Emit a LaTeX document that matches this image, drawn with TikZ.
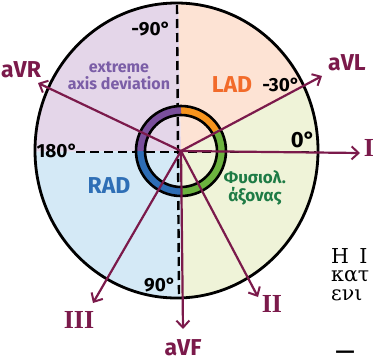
\documentclass[tikz,border=0pt]{standalone}
\usepackage{fontspec}
\setmainfont{Fira Sans}
\newfontfamily\serifgr{DejaVu Serif}
\newfontfamily\numfont{Liberation Serif}
\usetikzlibrary{arrows.meta,calc}
\definecolor{lav}{HTML}{E4D6E9}
\definecolor{peach}{HTML}{FDE3D4}
\definecolor{lgreen}{HTML}{EFF3D8}
\definecolor{lblue}{HTML}{D4E9F6}
\definecolor{ringpurple}{HTML}{7A4F9C}
\definecolor{ringorange}{HTML}{F7941D}
\definecolor{ringgreen}{HTML}{6CB33F}
\definecolor{ringblue}{HTML}{2D6DB5}
\definecolor{maroon}{HTML}{7B1A4B}
\definecolor{txtpurple}{HTML}{7B5EA7}
\definecolor{txtorange}{HTML}{F26B2A}
\definecolor{txtblue}{HTML}{2F6FB6}
\definecolor{txtgreen}{HTML}{1E7B45}
\begin{document}
\begin{tikzpicture}[x=1pt,y=-1pt,
  lead/.style={draw=maroon, line width=2.2pt, line cap=round,
    -{Straight Barb[length=7pt,width=13pt,line width=2pt]}},
  leadlabel/.style={text=maroon, font=\bfseries\fontsize{23}{23}\selectfont, inner sep=0pt},
  romanlabel/.style={text=maroon, font=\numfont\bfseries\fontsize{26}{26}\selectfont, inner sep=0pt},
  deglabel/.style={text=black, font=\bfseries\fontsize{19}{19}\selectfont, inner sep=0pt},
  axisdash/.style={draw=black, line width=2.4pt, dash pattern=on 9pt off 5pt},
  ringarc/.style={line width=8pt},
  regionlabel/.style={inner sep=0pt, align=center},
  sidetext/.style={anchor=north west, inner sep=0pt, align=left, font=\serifgr\fontsize{20.5}{18.5}\selectfont}]
\useasboundingbox (0,0) rectangle (380,362);
\coordinate (C) at (181,151);
% quadrants
\begin{scope}
  \clip (176.5,150.5) ellipse [x radius=141.5, y radius=147.5];
  \fill[lav] (C) -- (178,-20) -- (-20,-20) -- (-20,152) -- cycle;
  \fill[peach] (C) -- (178,-20) -- (500,-20) -- (500,-18) -- cycle;
  \fill[lgreen] (C) -- (500,-18) -- (500,500) -- (180,500) -- cycle;
  \fill[lblue] (C) -- (180,500) -- (-20,500) -- (-20,152) -- cycle;
\end{scope}
% dashed axes
\coordinate (vt) at (177,5);
\coordinate (vb) at (179,297);
\coordinate (hl) at (76,152);
\coordinate (hr) at (316,152);
\draw[axisdash] (vt) -- (vb);
\draw[axisdash] (hl) -- (hr);
% outer circle
\draw[line width=2.8pt] (176.5,150.5) ellipse [x radius=141.5, y radius=147.5];
% ring
\draw[ringarc, ringorange] ($(C)+(-90:40.5)$) arc[start angle=-90, end angle=-30, radius=40.5];
\draw[ringarc, ringgreen] ($(C)+(-30:40.5)$) arc[start angle=-30, end angle=90, radius=40.5];
\draw[ringarc, ringblue] ($(C)+(90:40.5)$) arc[start angle=90, end angle=180, radius=40.5];
\draw[ringarc, ringpurple] ($(C)+(180:40.5)$) arc[start angle=180, end angle=270, radius=40.5];
\draw[line width=2.6pt] (C) circle[radius=45];
\draw[line width=2.6pt] (C) circle[radius=36];
% leads
\coordinate (aVRt) at (38,83);
\coordinate (aVLt) at (322,76);
\coordinate (It) at (360,153);
\coordinate (IIt) at (258,297);
\coordinate (IIIt) at (93,303);
\coordinate (aVFt) at (183,329);
\draw[lead] (C) -- (aVRt);
\draw[lead] (C) -- (aVLt);
\draw[lead] (C) -- (It);
\draw[lead] (C) -- (IIt);
\draw[lead] (C) -- (IIIt);
\draw[lead] (C) -- (aVFt);
% lead labels
\node[leadlabel] (laVR) at (21,70) {aVR};
\node[leadlabel] (laVL) at (347,63) {aVL};
\node[romanlabel] (lI) at (369,148) {I};
\node[romanlabel] (lII) at (272,304) {II};
\node[romanlabel] (lIII) at (79,320) {III};
\node[leadlabel] (laVF) at (183,348) {aVF};
% degree labels
\node[deglabel] (d90m) at (151,29) {-90°};
\node[deglabel] (d180) at (57,151) {180°};
\node[deglabel] (d30m) at (281,85) {-30°};
\node[deglabel, font=\bfseries\fontsize{22}{22}\selectfont] (d0) at (303,140) {0°};
\node[deglabel] (d90) at (160,285) {90°};
% region labels
\node[regionlabel, text=txtpurple, font=\bfseries\fontsize{16}{17}\selectfont] (ext) at (119,76) {extreme\\axis deviation};
\node[regionlabel, text=txtorange, font=\bfseries\fontsize{23}{23}\selectfont] (lad) at (232,85) {LAD};
\node[regionlabel, text=txtblue, font=\bfseries\fontsize{23}{23}\selectfont] (rad) at (109,186) {RAD};
\node[regionlabel, text=txtgreen, font=\bfseries\fontsize{17}{18}\selectfont] (phys) at (255,188) {Φυσιολ.\\άξονας};
% cut-off text on the right
\node[sidetext] (side) at (331,248) {Η\hspace{0.5em}Ι\\κατ\\ενι};
\node[inner sep=0pt, font=\serifgr\bfseries\fontsize{20}{20}\selectfont] (dash) at (345,354) {\raisebox{-6.5pt}{\smash{—}}};
\end{tikzpicture}
\end{document}
